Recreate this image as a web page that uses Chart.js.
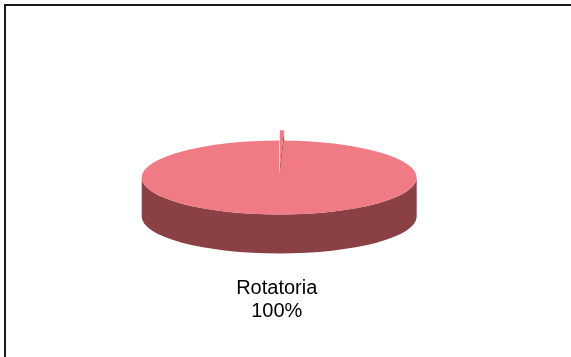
<!DOCTYPE html>
<html>
<head>
<meta charset="utf-8">
<script src="https://cdn.jsdelivr.net/npm/chart.js@4/dist/chart.umd.min.js"></script>
<style>
  html, body { margin: 0; padding: 0; background: #fff; }
  #wrap { width: 571px; height: 357px; position: relative; }
</style>
</head>
<body>
<div id="wrap"><canvas id="pieChart" width="571" height="357"></canvas></div>
<script>
// data
const categories = ['Otros', 'Rotatoria'];
const values = [0.5, 99.5];
const topColors = ['#F07B84', '#F07B84'];
const sideColors = ['#8B4046', '#8B4046'];
const explode = [38, 0]; // pulled-out distance, before squashing

// fake 3d look
const squash = 0.269;
const depth = 39;

// point on the rim of a slice, in screen space
function rimPoint(cx, cy, r, a, dy) {
    return [cx + Math.cos(a) * r, cy + Math.sin(a) * r * squash + dy];
}

function drawSides(ctx, arc, i) {
    const mid = (arc.startAngle + arc.endAngle) / 2;
    const cx = arc.x + Math.cos(mid) * explode[i];
    const cy = arc.y + Math.sin(mid) * explode[i] * squash;
    const r = arc.outerRadius;
    ctx.fillStyle = sideColors[i];

    // outer wall, only the front half (0..PI) can be seen
    const TAU = Math.PI * 2;
    for (let k = -1; k <= 1; k++) {
        const a0 = Math.max(arc.startAngle, k * TAU);
        const a1 = Math.min(arc.endAngle, k * TAU + Math.PI);
        if (a1 <= a0) continue;
        ctx.beginPath();
        ctx.ellipse(cx, cy, r, r * squash, 0, a0, a1);
        ctx.ellipse(cx, cy + depth, r, r * squash, 0, a1, a0, true);
        ctx.closePath();
        ctx.fill();
    }

    // cut walls along both radii
    [arc.startAngle, arc.endAngle].forEach(a => {
        const p = rimPoint(cx, cy, r, a, 0);
        const q = rimPoint(cx, cy, r, a, depth);
        ctx.beginPath();
        ctx.moveTo(cx, cy);
        ctx.lineTo(p[0], p[1]);
        ctx.lineTo(q[0], q[1]);
        ctx.lineTo(cx, cy + depth);
        ctx.closePath();
        ctx.fill();
    });
}

const pie3d = {
    id: 'pie3d',
    beforeDraw(chart) {
        const ctx = chart.ctx;
        ctx.save();
        ctx.fillStyle = '#fff';
        ctx.fillRect(0, 0, chart.width, chart.height);
        // frame, only top and left edges show
        ctx.strokeStyle = '#1a1a1a';
        ctx.lineWidth = 2;
        ctx.beginPath();
        ctx.moveTo(5, chart.height);
        ctx.lineTo(5, 5);
        ctx.lineTo(chart.width, 5);
        ctx.stroke();
        ctx.restore();
    },
    beforeDatasetsDraw(chart) {
        const ctx = chart.ctx;
        const arcs = chart.getDatasetMeta(0).data;

        ctx.save();
        arcs.forEach((arc, i) => drawSides(ctx, arc, i));
        ctx.restore();

        // top faces, squashed into an ellipse
        arcs.forEach((arc, i) => {
            const mid = (arc.startAngle + arc.endAngle) / 2;
            ctx.save();
            ctx.translate(arc.x, arc.y);
            ctx.scale(1, squash);
            ctx.translate(Math.cos(mid) * explode[i], Math.sin(mid) * explode[i]);
            ctx.translate(-arc.x, -arc.y);
            arc.draw(ctx);
            ctx.restore();
        });

        // labels
        const total = values.reduce((a, b) => a + b, 0);
        ctx.save();
        ctx.fillStyle = '#000';
        ctx.font = '20px "Liberation Sans", Arial, sans-serif';
        ctx.textAlign = 'center';
        ctx.textBaseline = 'alphabetic';
        arcs.forEach((arc, i) => {
            if (values[i] / total < 0.01) return;
            const pct = Math.round(values[i] / total * 100);
            const a = (arc.startAngle + arc.endAngle) / 2;
            const lx = arc.x + Math.cos(a) * arc.outerRadius * 1.15;
            const ly = arc.y + Math.sin(a) * arc.outerRadius * squash + depth;
            ctx.fillText(categories[i], lx, ly + 40.5);
            ctx.fillText(pct + '%', lx, ly + 63.8);
        });
        ctx.restore();
        return false;
    }
};

const ctx = document.getElementById('pieChart').getContext('2d');
const pieChart = new Chart(ctx, {
    type: 'pie',
    data: {
        labels: categories,
        datasets: [{
            data: values,
            backgroundColor: topColors,
            borderWidth: 0
        }]
    },
    options: {
        responsive: false,
        animation: false,
        radius: 137.5,
        layout: {
            padding: { left: 0, right: 12.6, top: 0, bottom: 2 }
        },
        plugins: {
            legend: { display: false },
            tooltip: { enabled: false }
        },
        events: []
    },
    plugins: [pie3d]
});
</script>
</body>
</html>
